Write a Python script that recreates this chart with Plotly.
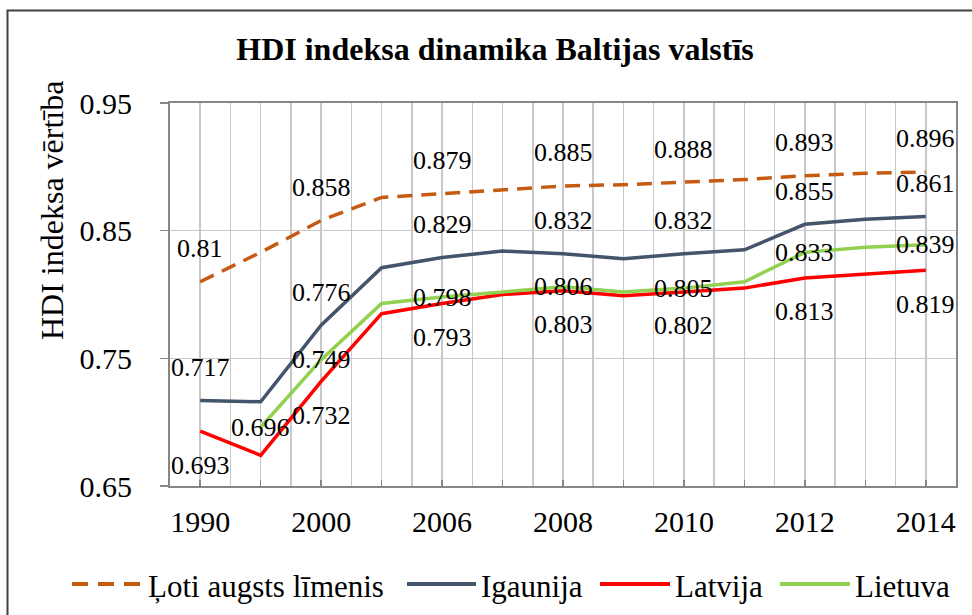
import plotly.graph_objects as go

years = ["1990", "1995", "2000", "2005", "2006", "2007", "2008",
         "2009", "2010", "2011", "2012", "2013", "2014"]
tick_labels = ["1990", "", "2000", "", "2006", "", "2008",
               "", "2010", "", "2012", "", "2014"]
loti_augsts = [0.810, 0.833, 0.858, 0.876, 0.879, 0.882, 0.885,
               0.886, 0.888, 0.890, 0.893, 0.895, 0.896]
igaunija = [0.717, 0.716, 0.776, 0.821, 0.829, 0.834, 0.832,
            0.828, 0.832, 0.835, 0.855, 0.859, 0.861]
latvija = [0.693, 0.674, 0.732, 0.785, 0.793, 0.800, 0.803,
           0.799, 0.802, 0.805, 0.813, 0.816, 0.819]
lietuva = [None, 0.696, 0.749, 0.793, 0.798, 0.802, 0.806,
           0.802, 0.805, 0.810, 0.833, 0.837, 0.839]
series_names = ["Ļoti augsts līmenis", "Igaunija", "Latvija", "Lietuva"]

FONT = "Liberation Serif, Times New Roman, DejaVu Serif, serif"
xs = list(range(len(years)))

# plot-area geometry in pixels (used to place non-data decorations)
L, R, T, B = 170, 956, 103, 486
PW, PH = R - L, B - T


def px_x(p):
    return (p - L) / PW


def px_y(p):
    return (B - p) / PH


styles = [
    dict(color="#C55A11", width=3.5, dash="15px,9px"),
    dict(color="#44546A", width=3.5),
    dict(color="#FF0000", width=3.5),
    dict(color="#92D050", width=3.5),
]
label_shift = [33, 33, -34, 0]
all_series = [loti_augsts, igaunija, latvija, lietuva]

fig = go.Figure()
annotations = []
shapes = []
for name, vals, line, shift in zip(series_names, all_series, styles, label_shift):
    fig.add_trace(go.Scatter(x=xs, y=vals, name=name, mode="lines", line=line,
                             connectgaps=False, hoverinfo="skip", showlegend=False))
    first = next(i for i, v in enumerate(vals) if v is not None)
    for i, v in enumerate(vals):
        if v is None:
            continue
        if i % 2 == 0 or i == first:
            annotations.append(dict(x=i, y=v, xref="x", yref="y", text=f"{v:g}",
                                    showarrow=False, yshift=shift,
                                    font=dict(family=FONT, size=26, color="black")))

# y-axis title
annotations.append(dict(x=px_x(52), y=px_y(210), xref="paper", yref="paper",
                        text="HDI indeksa vērtība", showarrow=False, textangle=-90,
                        xanchor="center", yanchor="middle",
                        font=dict(family=FONT, size=32, color="black")))

# legend drawn as line samples + text (long samples like the reference)
legend_line_px = [(72, 143), (407, 476), (600, 670), (780, 850)]
legend_y = 584
for name, line, (a, b) in zip(series_names, styles, legend_line_px):
    ln = dict(color=line["color"], width=4)
    if "dash" in line:
        ln["dash"] = "16px,10px"
    shapes.append(dict(type="line", xref="paper", yref="paper",
                       x0=px_x(a), x1=px_x(b), y0=px_y(legend_y), y1=px_y(legend_y),
                       line=ln))
    annotations.append(dict(x=px_x(b + 3), y=px_y(legend_y + 2), xref="paper", yref="paper",
                            text=name, showarrow=False, xanchor="left", yanchor="middle",
                            font=dict(family=FONT, size=31, color="black")))

# outer chart border (extends beyond right/bottom edges as in reference)
shapes.append(dict(type="rect", xref="paper", yref="paper",
                   x0=px_x(7.5), x1=px_x(990), y0=px_y(630), y1=px_y(10.5),
                   line=dict(color="#404040", width=2), fillcolor="rgba(0,0,0,0)",
                   layer="below"))

fig.update_layout(
    width=972, height=615,
    margin=dict(l=L, r=972 - R, t=T, b=615 - B),
    paper_bgcolor="white", plot_bgcolor="white",
    font=dict(family=FONT, size=30, color="black"),
    title=dict(text="<b>HDI indeksa dinamika Baltijas valstīs</b>",
               x=495 / 972, xanchor="center", xref="container",
               y=1 - 49 / 615, yanchor="middle", yref="container",
               font=dict(family=FONT, size=32, color="black")),
    showlegend=False,
    annotations=annotations,
    shapes=shapes,
    xaxis=dict(range=[-0.5, len(years) - 0.5], tickmode="array",
               tickvals=xs, ticktext=tick_labels,
               showgrid=True, gridcolor="#C8C8C8", gridwidth=1.5,
               minor=dict(dtick=0.5, tick0=0, showgrid=True, gridcolor="#C8C8C8",
                          gridwidth=1.5, ticks=""),
               showline=True, linecolor="#868686", linewidth=2, mirror=True,
               ticks="inside", ticklen=6, tickcolor="#868686", tickwidth=1.5,
               ticklabelstandoff=8,
               tickfont=dict(family=FONT, size=30, color="black"),
               zeroline=False, fixedrange=True),
    yaxis=dict(range=[0.65, 0.95], tickmode="linear", tick0=0.65, dtick=0.1,
               tickformat=".2f",
               showgrid=True, gridcolor="#C8C8C8", gridwidth=1.5,
               showline=True, linecolor="#868686", linewidth=2, mirror=True,
               ticks="outside", ticklen=8, tickcolor="#868686", tickwidth=1.5,
               ticklabelstandoff=22,
               tickfont=dict(family=FONT, size=30, color="black"),
               zeroline=False, fixedrange=True),
)

fig.write_html("out.html",
               config={"displayModeBar": False, "staticPlot": True},
               post_script="document.body.style.margin='0';"
                           "document.body.style.overflow='hidden';")
